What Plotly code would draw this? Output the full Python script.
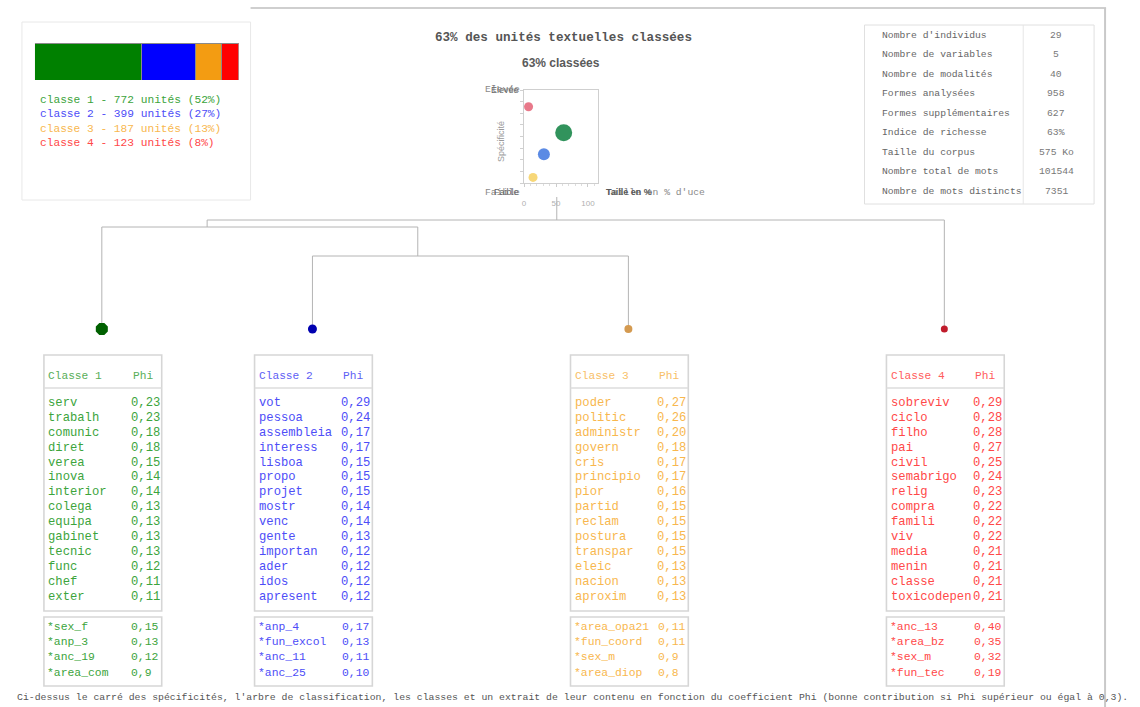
import plotly.graph_objects as go

W, H = 1140, 707
MONO = "Liberation Mono"
SANS = "Liberation Sans"

# ---------------- data ----------------
class_labels = ["classe 1", "classe 2", "classe 3", "classe 4"]
class_units = [772, 399, 187, 123]
class_pct = [52, 27, 13, 8]
bar_colors = ["#008000", "#0000ff", "#f39c12", "#ff0000"]
text_colors = ["#3ca43c", "#4d4df7", "#f8b74e", "#ff4848"]
head_colors = ["#58ae58", "#6060f5", "#f8c068", "#ff5c5c"]
leaf_colors = ["#006000", "#0000b0", "#d49a50", "#c01c2c"]

title_text = "63% des unités textuelles classées"
scatter_title = "63% classées"
scatter_taille = [62, 31, 14, 7]      # taille en % (x)
scatter_spec = [54, 31, 6, 82]        # spécificité (y)
scatter_colors = ["#1f8a4e", "#4d80e2", "#f6d46c", "#e66e80"]
scatter_sizes = [17, 12, 9, 9]
scatter_xticks = [0, 50, 100]

stat_labels = ["Nombre d'individus", "Nombre de variables", "Nombre de modalités",
               "Formes analysées", "Formes supplémentaires", "Indice de richesse",
               "Taille du corpus", "Nombre total de mots", "Nombre de mots distincts"]
stat_values = ["29", "5", "40", "958", "627", "63%", "575 Ko", "101544", "7351"]

# dendrogram: leaves (class order) and merges
leaf_pos = [0, 2, 5, 8]
merge_children = [(1, 2), (0, 4), (5, 3)]   # node ids: 0-3 leaves, 4.. merges
merge_height = [0.73, 1.02, 1.09]
merge_stem = [3.0, 1.0, 4.32]
root_top = 1.32

class_words = [
    ["serv", "trabalh", "comunic", "diret", "verea", "inova", "interior", "colega",
     "equipa", "gabinet", "tecnic", "func", "chef", "exter"],
    ["vot", "pessoa", "assembleia", "interess", "lisboa", "propo", "projet", "mostr",
     "venc", "gente", "importan", "ader", "idos", "apresent"],
    ["poder", "politic", "administr", "govern", "cris", "principio", "pior", "partid",
     "reclam", "postura", "transpar", "eleic", "nacion", "aproxim"],
    ["sobreviv", "ciclo", "filho", "pai", "civil", "semabrigo", "relig", "compra",
     "famili", "viv", "media", "menin", "classe", "toxicodepen"],
]
class_phi = [
    ["0,23", "0,23", "0,18", "0,18", "0,15", "0,14", "0,14", "0,13", "0,13", "0,13", "0,13", "0,12", "0,11", "0,11"],
    ["0,29", "0,24", "0,17", "0,17", "0,15", "0,15", "0,15", "0,14", "0,14", "0,13", "0,12", "0,12", "0,12", "0,12"],
    ["0,27", "0,26", "0,20", "0,18", "0,17", "0,17", "0,16", "0,15", "0,15", "0,15", "0,15", "0,13", "0,13", "0,13"],
    ["0,29", "0,28", "0,28", "0,27", "0,25", "0,24", "0,23", "0,22", "0,22", "0,22", "0,21", "0,21", "0,21", "0,21"],
]
supp_vars = [
    ["*sex_f", "*anp_3", "*anc_19", "*area_com"],
    ["*anp_4", "*fun_excol", "*anc_11", "*anc_25"],
    ["*area_opa21", "*fun_coord", "*sex_m", "*area_diop"],
    ["*anc_13", "*area_bz", "*sex_m", "*fun_tec"],
]
supp_phi = [
    ["0,15", "0,13", "0,12", "0,9"],
    ["0,17", "0,13", "0,11", "0,10"],
    ["0,11", "0,11", "0,9", "0,8"],
    ["0,40", "0,35", "0,32", "0,19"],
]

footer = ("Ci-dessus le carré des spécificités, l'arbre de classification, les classes et un "
          "extrait de leur contenu en fonction du coefficient Phi (bonne contribution si Phi "
          "supérieur ou égal à 0,3).")

# ---------------- layout helpers ----------------
def px(x):
    return x / W

def py(y):
    return 1 - y / H

annotations = []
shapes = []

def txt(x, y, s, size, color, family=MONO, xa="left", ya="middle", bold=False, angle=0):
    annotations.append(dict(
        x=px(x), y=py(y), xref="paper", yref="paper", text=s, showarrow=False,
        xanchor=xa, yanchor=ya, textangle=angle, borderpad=0,
        font=dict(family=family, size=size, color=color, weight="bold" if bold else "normal")))

def rect(x0, y0, x1, y1, color, width=1):
    shapes.append(dict(type="rect", xref="paper", yref="paper", x0=px(x0), x1=px(x1),
                       y0=py(y1), y1=py(y0), line=dict(color=color, width=width)))

def line(x0, y0, x1, y1, color, width=1):
    shapes.append(dict(type="line", xref="paper", yref="paper", x0=px(x0), x1=px(x1),
                       y0=py(y0), y1=py(y1), line=dict(color=color, width=width)))

fig = go.Figure()

# ---------------- frames ----------------
line(249, 8, 1106, 8, "#cfcfcf", 2)
line(1105, 8, 1105, 707, "#c9c9c9", 2)
rect(20, 22, 249, 200, "#e8e8e8", 1)

# ---------------- proportion bar ----------------
for i in range(4):
    fig.add_trace(go.Bar(x=[class_units[i]], y=[0], orientation="h", width=1,
                         marker=dict(color=bar_colors[i], line=dict(color="#8a8a8a", width=1)),
                         xaxis="x2", yaxis="y2", hoverinfo="skip", showlegend=False))

for i in range(4):
    txt(37.5, 100 + 14.45 * i,
        f"{class_labels[i]} - {class_units[i]} unités ({class_pct[i]}%)",
        11.2, text_colors[i])

# ---------------- title ----------------
txt(562.5, 38, title_text, 12.6, "#555555", bold=True, xa="center")

# ---------------- specificity scatter ----------------
fig.add_trace(go.Scatter(x=scatter_taille, y=scatter_spec, mode="markers",
                         marker=dict(color=scatter_colors, size=scatter_sizes, opacity=0.92,
                                     line=dict(width=0)),
                         xaxis="x3", yaxis="y3", hoverinfo="skip", showlegend=False))
txt(560, 63, scatter_title, 12, "#5a5a5a", family=SANS, xa="center", bold=True)
txt(500, 142, "Spécificité", 9, "#9a9a9a", family=SANS, xa="center", angle=-90)
txt(520, 90, "Elevée", 9.7, "#8a8a8a", xa="right")
txt(519, 90, "Élevée", 9, "#666666", family=SANS, xa="right")
txt(520, 192, "Faible", 9.7, "#8a8a8a", xa="right")
txt(519, 192, "Faible", 9, "#666666", family=SANS, xa="right")
txt(604, 192, "Taille en % d'uce", 9.7, "#8a8a8a")
txt(604, 192, "Taille en %", 9, "#5a5a5a", family=SANS, bold=True)

# ---------------- stats table ----------------
rect(864, 25, 1094, 204, "#e0e0e0", 1)
line(1023, 25, 1023, 204, "#e6e6e6", 1)
for i, (lab, val) in enumerate(zip(stat_labels, stat_values)):
    yy = 35 + 19.55 * i
    txt(881, yy, lab, 9.7, "#666666")
    txt(1056, yy, val, 9.7, "#777777", xa="center")

# ---------------- dendrogram ----------------
DX0, DXS = 100, 105.5      # pixel of leaf position 0 and pixels per unit
DY0, DYS = 329, 100        # pixel of height 0 and pixels per unit
node_x = list(leaf_pos) + list(merge_stem)
node_h = [0] * len(leaf_pos) + list(merge_height)
lx, ly = [], []
for k, (a, b) in enumerate(merge_children):
    h = merge_height[k]
    lx += [node_x[a], node_x[a], None, node_x[b], node_x[b], None, node_x[a], node_x[b], None]
    ly += [node_h[a], h, None, node_h[b], h, None, h, h, None]
lx += [merge_stem[-1], merge_stem[-1]]
ly += [merge_height[-1], root_top]
fig.add_trace(go.Scatter(x=lx, y=ly, mode="lines", line=dict(color="#b4b4b4", width=1),
                         xaxis="x", yaxis="y", hoverinfo="skip", showlegend=False))
fig.add_trace(go.Scatter(x=leaf_pos, y=[0] * len(leaf_pos), mode="markers",
                         marker=dict(color=leaf_colors, size=[13, 9, 8, 7], opacity=1,
                                     line=dict(width=0),
                                     symbol=["octagon", "circle", "circle", "circle"]),
                         xaxis="x", yaxis="y", hoverinfo="skip", showlegend=False))

# ---------------- class tables ----------------
WF = 12.2   # word font size
SF = 11.4   # supplementary font size
for c in range(4):
    cx = DX0 + DXS * leaf_pos[c] + 1
    left = cx - 59
    right = cx + 59
    rect(left, 355, right, 611, "#d6d6d6", 1.6)
    line(left, 388, right, 388, "#dcdcdc", 1.6)
    txt(left + 3.5, 376, f"Classe {c + 1}", 11.2, head_colors[c])
    txt(left + 88, 376, "Phi", 11.2, head_colors[c])
    for i, (w, p) in enumerate(zip(class_words[c], class_phi[c])):
        yy = 403 + 14.9 * i
        txt(left + 3.5, yy, w, WF, text_colors[c])
        txt(left + 86, yy, p, WF, text_colors[c])
    rect(left, 617, right, 686, "#d6d6d6", 1.6)
    for i, (w, p) in enumerate(zip(supp_vars[c], supp_phi[c])):
        yy = 627 + 15.2 * i
        txt(left + 2.5, yy, w, SF, text_colors[c])
        txt(left + 86.5, yy, p, SF, text_colors[c])

# ---------------- footer ----------------
txt(14, 697, footer, 9.8, "#555555")

# ---------------- axes ----------------
fig.update_layout(
    width=W, height=H, margin=dict(l=0, r=0, t=0, b=0, pad=0),
    paper_bgcolor="white", plot_bgcolor="rgba(0,0,0,0)",
    showlegend=False, barmode="stack", bargap=0,
    annotations=annotations, shapes=shapes,
    xaxis=dict(domain=[0, 1], range=[-DX0 / DXS, (W - DX0) / DXS], visible=False, fixedrange=True),
    yaxis=dict(domain=[0, 1], range=[(DY0 - H) / DYS, DY0 / DYS], visible=False, fixedrange=True),
    xaxis2=dict(domain=[px(33), px(237)], range=[0, sum(class_units)], visible=False,
                anchor="y2", fixedrange=True),
    yaxis2=dict(domain=[py(80), py(43)], range=[-0.5, 0.5], visible=False,
                anchor="x2", fixedrange=True),
    xaxis3=dict(domain=[px(523), px(597)], range=[0, 115.6], anchor="y3",
                tickvals=scatter_xticks, ticks="outside", ticklen=3, tickcolor="#cccccc",
                ticklabelstandoff=9,
                tickfont=dict(family=SANS, size=8, color="#b0b0b0"),
                minor=dict(ticks="outside", ticklen=2, dtick=10, tickcolor="#dddddd"),
                showline=True, mirror=True, linecolor="#cfcfcf", linewidth=1,
                showgrid=False, zeroline=False, fixedrange=True),
    yaxis3=dict(domain=[py(183), py(90)], range=[0, 100], anchor="x3",
                showticklabels=False, ticks="outside", ticklen=3, dtick=12.5,
                tickcolor="#d0d0d0", showline=True, mirror=True, linecolor="#cfcfcf",
                linewidth=1, showgrid=False, zeroline=False, fixedrange=True),
)

fig.write_html("out.html", include_plotlyjs=True, full_html=True,
               config={"displayModeBar": False, "staticPlot": True},
               post_script="document.body.style.margin='0';document.body.style.overflow='hidden';")
